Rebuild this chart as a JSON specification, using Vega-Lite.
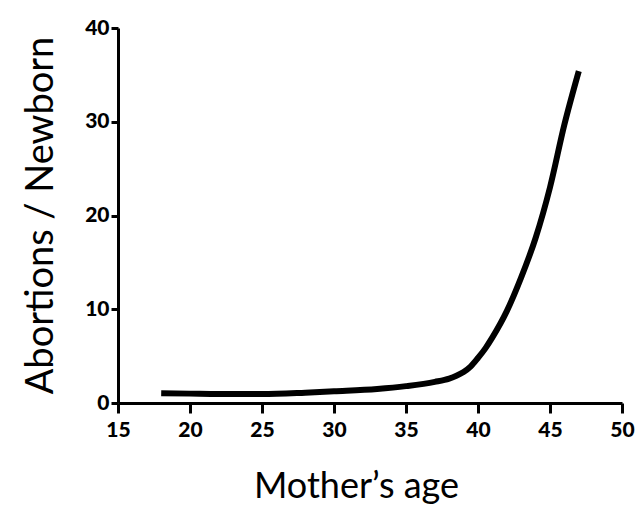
{
  "$schema": "https://vega.github.io/schema/vega-lite/v6.json",
  "autosize": "none",
  "width": 504,
  "height": 375,
  "padding": {"left": 118, "top": 28, "right": 20, "bottom": 105},
  "background": "white",
  "config": {"view": {"stroke": null}},
  "data": {"values": [
    {"age": 18, "ratio": 1.05},
    {"age": 20, "ratio": 1.0},
    {"age": 22, "ratio": 0.95},
    {"age": 25, "ratio": 0.95},
    {"age": 28, "ratio": 1.1},
    {"age": 30, "ratio": 1.25},
    {"age": 33, "ratio": 1.5},
    {"age": 35, "ratio": 1.8},
    {"age": 37, "ratio": 2.25},
    {"age": 38, "ratio": 2.6},
    {"age": 38.5, "ratio": 2.9},
    {"age": 39, "ratio": 3.3},
    {"age": 39.5, "ratio": 3.9},
    {"age": 40, "ratio": 4.8},
    {"age": 40.5, "ratio": 5.8},
    {"age": 41, "ratio": 7.0},
    {"age": 42, "ratio": 9.8},
    {"age": 43, "ratio": 13.4},
    {"age": 44, "ratio": 17.6},
    {"age": 45, "ratio": 23.0},
    {"age": 46, "ratio": 29.7},
    {"age": 47, "ratio": 35.4}
  ]},
  "mark": {"type": "line", "color": "black", "strokeWidth": 6, "interpolate": "monotone", "strokeCap": "butt"},
  "encoding": {
    "x": {
      "field": "age", "type": "quantitative",
      "scale": {"domain": [15, 50], "nice": false, "zero": false},
      "axis": {
        "title": "Mother’s age",
        "values": [15, 20, 25, 30, 35, 40, 45, 50],
        "grid": false,
        "domainColor": "black", "domainWidth": 3,
        "tickColor": "black", "tickWidth": 3, "tickSize": 10,
        "labelFont": "Lato", "labelFontSize": 21, "labelFontWeight": 900, "labelColor": "black",
        "labelPadding": 6, "labelFlush": false,
        "titleFont": "Lato", "titleFontSize": 36, "titleFontWeight": "normal", "titleColor": "black",
        "titleX": 238, "titleY": 94, "titleBaseline": "alphabetic", "titleAnchor": "middle", "titleAlign": "center"
      }
    },
    "y": {
      "field": "ratio", "type": "quantitative",
      "scale": {"domain": [0, 40], "nice": false},
      "axis": {
        "title": "Abortions / Newborn",
        "values": [0, 10, 20, 30, 40],
        "grid": false,
        "domainColor": "black", "domainWidth": 3,
        "tickColor": "black", "tickWidth": 3, "tickSize": 7,
        "labelFont": "Lato", "labelFontSize": 21, "labelFontWeight": 900, "labelColor": "black",
        "labelPadding": 2, "labelFlush": false,
        "titleFont": "Lato", "titleFontSize": 38, "titleFontWeight": "normal", "titleColor": "black",
        "titleAngle": -90, "titleX": -66, "titleY": 187, "titleBaseline": "alphabetic", "titleAlign": "center"
      }
    }
  }
}
